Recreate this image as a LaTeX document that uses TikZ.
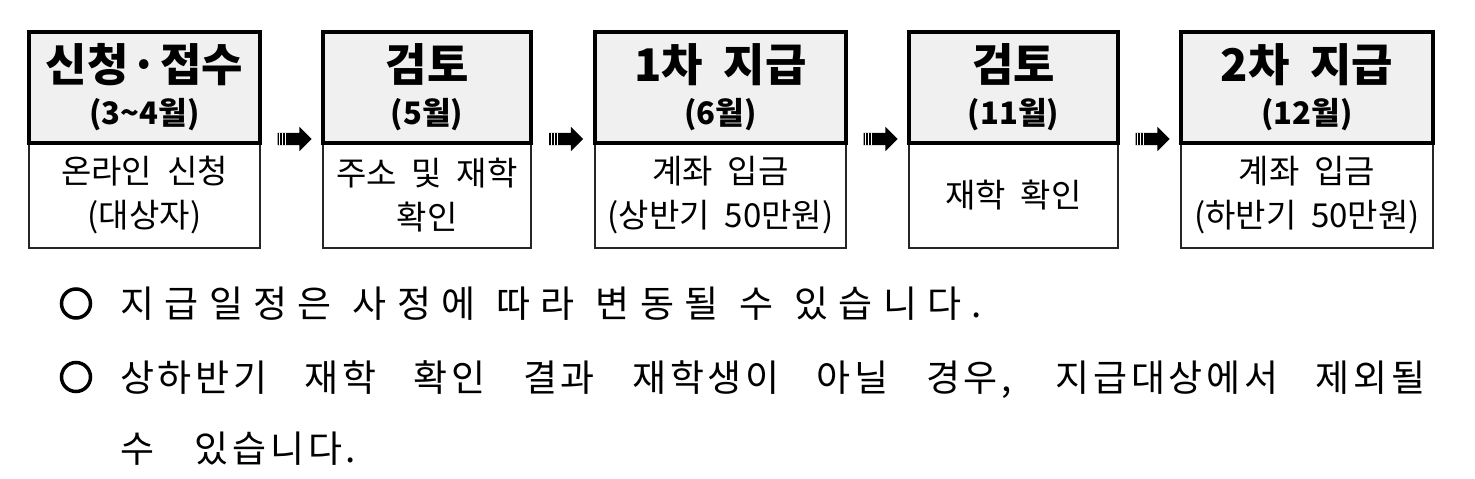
\documentclass[tikz,border=0pt]{standalone}
\usepackage{fontspec}
\setmainfont{Noto Sans CJK KR}[WordSpace=2]
\newfontfamily\notefont{Noto Sans CJK KR}[LetterSpace=10]
\newfontfamily\widenotefont{Noto Sans CJK KR}[LetterSpace=28]
\usepackage{xcolor}
\usetikzlibrary{shapes.arrows,positioning,calc}
\definecolor{headgray}{RGB}{240,240,240}
\newcommand{\monthfont}{\bfseries\fontsize{31}{43}\selectfont}

\begin{document}
\begin{tikzpicture}[
		x=1pt, y=-1pt,
		head/.style={draw, line width=4pt, fill=headgray, minimum height=111pt, inner sep=0pt, outer sep=0pt, align=center, font=\bfseries\fontsize{45}{43}\selectfont},
		detail/.style={draw=black!85, line width=1.5pt, fill=white, minimum height=105pt, inner sep=0pt, outer sep=0pt, align=center, font=\fontsize{33}{44}\selectfont},
		flow/.style={single arrow, fill=black, draw=none, minimum height=34pt, inner sep=6pt, single arrow head extend=6pt,
			path picture={\foreach \s in {2,5,8}
				\draw[white, line width=0.8pt] ([xshift=\s pt, yshift=-8pt]path picture bounding box.west) -- ([xshift=\s pt, yshift=8pt]path picture bounding box.west);}},
		note/.style={anchor=base west, inner sep=0pt, font=\notefont\fontsize{37}{44}\selectfont},
		bullet/.style={circle, draw, line width=3.5pt, minimum size=29pt, inner sep=0pt}
		]
		\useasboundingbox (0,0) rectangle (1475,479);
		
		% Lower boxes: what happens at each step
		\node[detail, minimum width=231pt] (apply-d) at (144.5,195.5) {온라인 신청\\(대상자)};
		\node[detail, minimum width=208pt, right=63pt of apply-d] (check1-d) {주소 및 재학\\확인};
		\node[detail, minimum width=251pt, right=64pt of check1-d] (pay1-d) {계좌 입금\\(상반기 50만원)};
		\node[detail, minimum width=209pt, right=63pt of pay1-d] (check2-d) {재학 확인};
		\node[detail, minimum width=252pt, right=63pt of check2-d] (pay2-d) {계좌 입금\\(하반기 50만원)};
		
		% Headers: step and month
		\node[head, minimum width=231pt, above=0pt of apply-d] (apply-h) {신청\hspace{2pt}·\hspace{2pt}접수\\{\monthfont (3\textasciitilde4월)}};
		\node[head, minimum width=208pt, above=0pt of check1-d] (check1-h) {검토\\{\monthfont (5월)}};
		\node[head, minimum width=251pt, above=0pt of pay1-d] (pay1-h) {1차 지급\\{\monthfont (6월)}};
		\node[head, minimum width=209pt, above=0pt of check2-d] (check2-h) {검토\\{\monthfont (11월)}};
		\node[head, minimum width=252pt, above=0pt of pay2-d] (pay2-h) {2차 지급\\{\monthfont (12월)}};
		
		% Block arrows between the steps
		\node[flow] (arr1) at ($(apply-h.south east)!0.5!(check1-h.south west)+(0,-4)$) {};
		\node[flow] (arr2) at ($(check1-h.south east)!0.5!(pay1-h.south west)+(0,-4)$) {};
		\node[flow] (arr3) at ($(pay1-h.south east)!0.5!(check2-h.south west)+(0,-4)$) {};
		\node[flow] (arr4) at ($(check2-h.south east)!0.5!(pay2-h.south west)+(0,-4)$) {};
		
		% Notes
		\node[bullet] (bullet1) at (76,303.5) {};
		\node[note] (note1) at (120,317) {\widenotefont\makebox[862pt][s]{지급일정은 사정에 따라 변동될 수 있습니다.}};
		\node[bullet] (bullet2) at (76,377) {};
		\node[note] (note2) at (120,391) {\makebox[1305pt][s]{상하반기 재학 확인 결과 재학생이 아닐 경우, 지급대상에서 제외될}};
		\node[note] (note3) at (120,462) {\makebox[236pt][s]{수 있습니다.}};
		
	\end{tikzpicture}
\end{document}
